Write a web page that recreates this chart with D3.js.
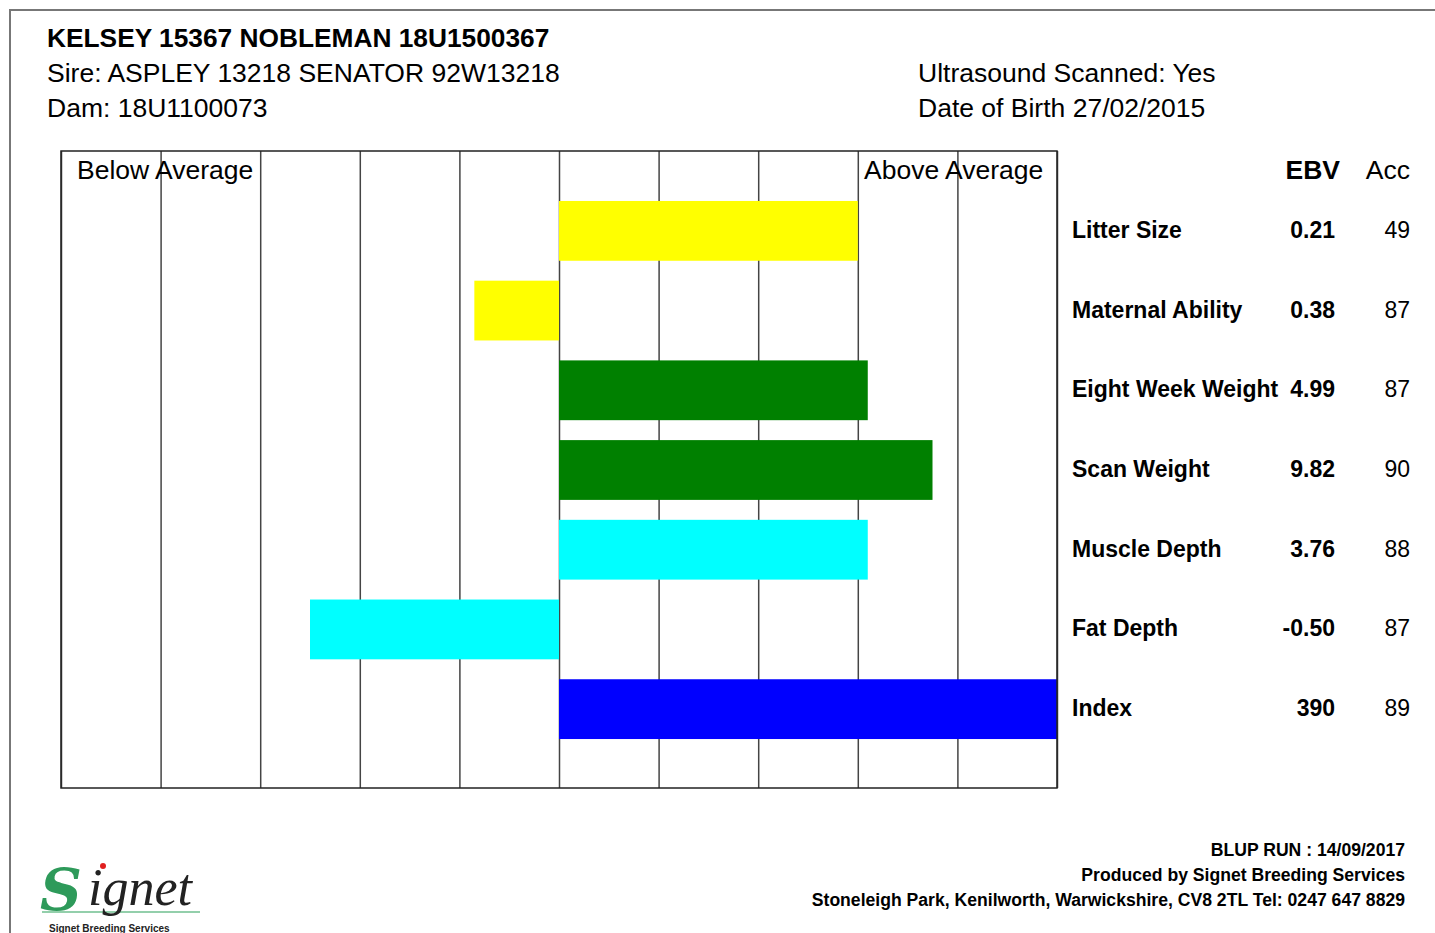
<!DOCTYPE html>
<html>
<head>
<meta charset="utf-8">
<script src="https://cdn.jsdelivr.net/npm/d3@7"></script>
<style>
  body { margin: 0; background: #fff; }
  svg { display: block; font-family: "Liberation Sans", Arial, Helvetica, sans-serif; }
  .grid-line { stroke: #444; stroke-width: 1.5; }
  .frame { fill: none; stroke: #222; stroke-width: 1.5; }
</style>
</head>
<body>
<div class="app"></div>
<script>
'use strict'

var width = 1435;
var height = 933;

// traits shown on the chart, top to bottom
var traits = ["Litter Size", "Maternal Ability", "Eight Week Weight", "Scan Weight", "Muscle Depth", "Fat Depth", "Index"];
// bar lengths in grid units (centre = 0, each cell = 1)
var barValues = [3.0, -0.85, 3.1, 3.75, 3.1, -2.5, 5.0];
var barColors = ["#ffff00", "#ffff00", "#008000", "#008000", "#00ffff", "#00ffff", "#0000ff"];
var ebvLabels = ["0.21", "0.38", "4.99", "9.82", "3.76", "-0.50", "390"];
var accLabels = ["49", "87", "87", "90", "88", "87", "89"];
var gridTicks = [-5, -4, -3, -2, -1, 0, 1, 2, 3, 4, 5];

var headerLeft = ["Sire: ASPLEY 13218 SENATOR 92W13218", "Dam: 18U1100073"];
var headerRight = ["Ultrasound Scanned: Yes", "Date of Birth 27/02/2015"];
var footerLines = ["BLUP RUN : 14/09/2017", "Produced by Signet Breeding Services",
  "Stoneleigh Park, Kenilworth, Warwickshire, CV8 2TL Tel: 0247 647 8829"];

var svg = d3.select(".app")
  .append("svg")
  .attr("width", width)
  .attr("height", height);

// page border (top and left edges visible)
svg.append("path")
  .attr("d", "M10," + height + "V10H" + width)
  .attr("fill", "none")
  .attr("stroke", "#777")
  .attr("stroke-width", 2);

// header
svg.append("text")
  .attr("x", 47).attr("y", 47)
  .attr("font-size", 26.3).attr("font-weight", "bold")
  .text("KELSEY 15367 NOBLEMAN 18U1500367");

svg.selectAll("text.hl").data(headerLeft).enter()
  .append("text").attr("class", "hl")
  .attr("x", 47).attr("y", function(d, i) { return 82 + i * 35; })
  .attr("font-size", 26.5)
  .text(function(d) { return d; });

svg.selectAll("text.hr").data(headerRight).enter()
  .append("text").attr("class", "hr")
  .attr("x", 918).attr("y", function(d, i) { return 82 + i * 35; })
  .attr("font-size", 26.5)
  .text(function(d) { return d; });

// scales
var plotLeft = 61, plotRight = 1057, plotTop = 151, plotBottom = 788;

var scaleX = d3.scaleLinear()
  .domain([-5, 5])
  .range([plotLeft, plotRight]);

var scaleY = d3.scaleBand()
  .domain(traits)
  .range([191, 749])
  .paddingInner(0.25)
  .paddingOuter(0.125);

// vertical grid lines
var xAxis = d3.axisBottom(scaleX).tickValues(gridTicks).tickSize(plotTop - plotBottom).tickFormat("");
var gx = svg.append("g")
  .attr("transform", "translate(0," + plotBottom + ")")
  .call(xAxis);
gx.select(".domain").remove();
gx.selectAll(".tick line").attr("class", "grid-line");

// bars
svg.selectAll("rect.bar").data(traits).enter()
  .append("rect").attr("class", "bar")
  .attr("x", function(d, i) { return Math.min(scaleX(0), scaleX(barValues[i])); })
  .attr("width", function(d, i) { return Math.abs(scaleX(barValues[i]) - scaleX(0)); })
  .attr("y", function(d) { return scaleY(d); })
  .attr("height", scaleY.bandwidth())
  .attr("fill", function(d, i) { return barColors[i]; });

// frame
svg.append("rect").attr("class", "frame")
  .attr("x", plotLeft).attr("y", plotTop)
  .attr("width", plotRight - plotLeft).attr("height", plotBottom - plotTop);

svg.append("text").attr("x", 77).attr("y", 179).attr("font-size", 26.5).text("Below Average");
svg.append("text").attr("x", 864).attr("y", 179).attr("font-size", 26.5).text("Above Average");

// right-hand table
svg.append("text").attr("x", 1340).attr("y", 179).attr("font-size", 26.5)
  .attr("font-weight", "bold").attr("text-anchor", "end").text("EBV");
svg.append("text").attr("x", 1410).attr("y", 179).attr("font-size", 26.5)
  .attr("text-anchor", "end").text("Acc");

var rows = svg.selectAll("g.row").data(traits).enter()
  .append("g").attr("class", "row")
  .attr("transform", function(d) { return "translate(0," + (scaleY(d) + scaleY.bandwidth() / 2 + 7) + ")"; });

rows.append("text").attr("x", 1072).attr("font-size", 23).attr("font-weight", "bold")
  .text(function(d) { return d; });
rows.append("text").attr("x", 1335).attr("font-size", 23).attr("font-weight", "bold")
  .attr("text-anchor", "end").text(function(d, i) { return ebvLabels[i]; });
rows.append("text").attr("x", 1410).attr("font-size", 23)
  .attr("text-anchor", "end").text(function(d, i) { return accLabels[i]; });

// footer
svg.selectAll("text.foot").data(footerLines).enter()
  .append("text").attr("class", "foot")
  .attr("x", 1405).attr("y", function(d, i) { return 856 + i * 25; })
  .attr("font-size", 17.6).attr("font-weight", "bold")
  .attr("text-anchor", "end")
  .text(function(d) { return d; });

// Signet logo
var logo = svg.append("g");
logo.append("line").attr("x1", 42).attr("x2", 200).attr("y1", 912).attr("y2", 912)
  .attr("stroke", "#6fbf8f").attr("stroke-width", 1.5);
logo.append("text").attr("x", 40).attr("y", 910)
  .attr("font-family", "'DejaVu Serif', 'Liberation Serif', serif")
  .attr("font-style", "italic").attr("font-weight", "bold")
  .attr("font-size", 58).attr("fill", "#2e9a5a").text("S");
logo.append("text").attr("x", 88).attr("y", 905)
  .attr("font-family", "'Liberation Serif', serif")
  .attr("font-style", "italic")
  .attr("font-size", 52).attr("fill", "#222").text("ignet");
logo.append("circle").attr("cx", 103).attr("cy", 866).attr("r", 3).attr("fill", "#e02020");
logo.append("text").attr("x", 49).attr("y", 932)
  .attr("font-size", 10).attr("font-weight", "bold").attr("fill", "#222")
  .text("Signet Breeding Services");
</script>
</body>
</html>
